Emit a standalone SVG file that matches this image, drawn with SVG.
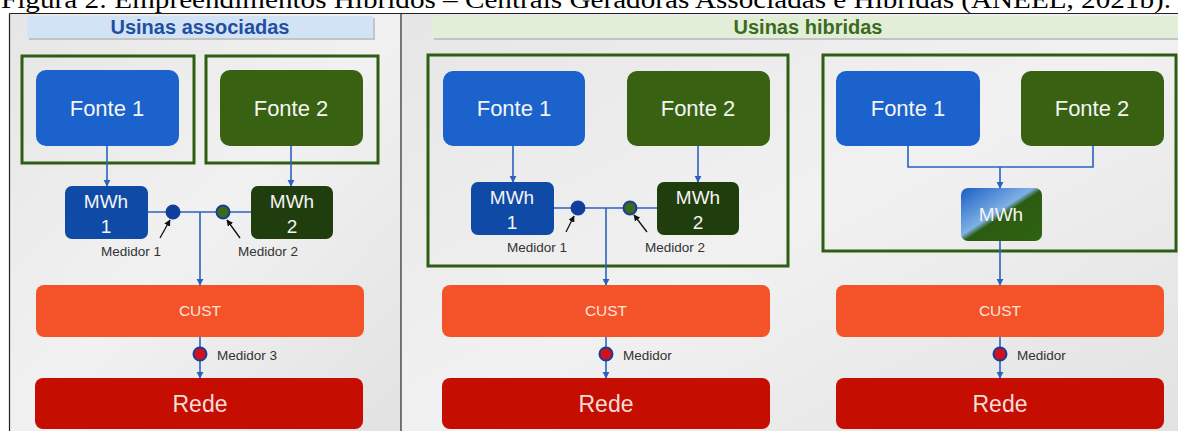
<svg xmlns="http://www.w3.org/2000/svg" width="1178" height="431" viewBox="0 0 1178 431">
<defs>
<linearGradient id="bg" x1="0" y1="0" x2="1" y2="1">
<stop offset="0" stop-color="#e6e6e6"/><stop offset="0.5" stop-color="#f1f1f1"/><stop offset="1" stop-color="#e2e2e2"/>
</linearGradient>
<linearGradient id="mix" x1="0" y1="0" x2="1" y2="1">
<stop offset="0" stop-color="#1b5fc4"/><stop offset="0.45" stop-color="#7fb0e6"/><stop offset="0.52" stop-color="#2c5c10"/><stop offset="1" stop-color="#2f6212"/>
</linearGradient>
<marker id="ab" viewBox="0 0 10 10" refX="9" refY="5" markerWidth="4.5" markerHeight="4.5" orient="auto"><path d="M0,0 L10,5 L0,10 z" fill="#2a62c0"/></marker>
<marker id="ak" viewBox="0 0 10 10" refX="9" refY="5" markerWidth="5" markerHeight="5" orient="auto"><path d="M0,0 L10,5 L0,10 z" fill="#111"/></marker>
<style>
.t{font-family:"Liberation Sans",Arial,sans-serif;text-anchor:middle}
.frame{fill:none;stroke:#2f5e12;stroke-width:3}
.f1{fill:#1c62cc}.f2{fill:#386212}
.m1{fill:#0e4aa6}.m2{fill:#1f3d0d}
.cust{fill:#f4532a}.rede{fill:#c50d02}
.wt{fill:#f4f4f4}
.big{font-size:22px}.mw{font-size:19px}
.lbl{font-family:"Liberation Sans",Arial,sans-serif;font-size:13.5px;fill:#333}
.con{fill:none;stroke:#2a62c0;stroke-width:1.6}
.conA{fill:none;stroke:#2a62c0;stroke-width:1.6;marker-end:url(#ab)}
.ptr{stroke:#111;stroke-width:1.3;marker-end:url(#ak)}
.med{stroke:#163f96;stroke-width:2}
</style>
</defs>
<rect width="1178" height="431" fill="#fff"/>
<text x="1" y="8" font-family="Liberation Serif,'Times New Roman',serif" font-size="26" textLength="1170" lengthAdjust="spacingAndGlyphs">Figura 2: Empreendimentos Híbridos – Centrais Geradoras Associadas e Híbridas (ANEEL, 2021b).</text>
<rect x="10" y="14" width="391" height="417" fill="url(#bg)"/>
<rect x="402" y="14" width="776" height="417" fill="url(#bg)"/>
<g fill="none" stroke="#222" stroke-width="1.2">
<path d="M9.5,13.5 H1178 M9.5,13.5 V431 M401,13.5 V431"/>
</g>

<g id="hdr-assoc">
<rect x="29" y="18" width="346" height="22" fill="#b9b9b9" opacity="0.8"/>
<rect x="27" y="16" width="346" height="22" fill="#d3e3f6"/>
<text class="t" x="200" y="34" font-size="20" font-weight="bold" fill="#1f4f9e">Usinas associadas</text>
</g>
<g id="hdr-hib">
<rect x="434" y="18" width="744" height="22" fill="#b9b9b9" opacity="0.8"/>
<rect x="432" y="16" width="746" height="22" fill="#e3eed9"/>
<text class="t" x="808" y="34" font-size="20" font-weight="bold" fill="#3a6b1e">Usinas hibridas</text>
</g>

<!-- frames -->
<g id="frame-a1"><rect class="frame" x="22" y="56" width="172" height="107"/></g>
<g id="frame-a2"><rect class="frame" x="206" y="56" width="172" height="107"/></g>
<g id="frame-h1"><rect class="frame" x="428" y="55" width="360" height="211"/></g>
<g id="frame-h2"><rect class="frame" x="823" y="55" width="353" height="196"/></g>

<!-- connectors -->
<g id="connectors">
<path class="conA" d="M107,146 V186"/>
<path class="conA" d="M291,146 V186"/>
<path class="con" d="M148,212 H251"/>
<path class="conA" d="M200,212 V285"/>
<path class="conA" d="M200,337 V378"/>
<path class="conA" d="M513,146 V182"/>
<path class="conA" d="M698,146 V182"/>
<path class="con" d="M554,208 H657"/>
<path class="conA" d="M606,208 V285"/>
<path class="conA" d="M606,337 V378"/>
<path class="con" d="M908,146 V167 H1093 V146"/>
<path class="conA" d="M1000,167 V188"/>
<path class="conA" d="M1000,241 V285"/>
<path class="conA" d="M1000,337 V378"/>
<line class="ptr" x1="160" y1="238" x2="170" y2="220"/>
<line class="ptr" x1="240" y1="238" x2="227" y2="220"/>
<line class="ptr" x1="566" y1="232" x2="574" y2="216"/>
<line class="ptr" x1="647" y1="232" x2="634" y2="215"/>
</g>

<!-- left panel nodes -->
<g id="a-fonte1"><rect class="f1" x="36" y="70" width="143" height="76" rx="10"/><text class="t wt big" x="107" y="116">Fonte 1</text></g>
<g id="a-fonte2"><rect class="f2" x="220" y="70" width="143" height="76" rx="10"/><text class="t wt big" x="291" y="116">Fonte 2</text></g>
<g id="a-mwh1"><rect class="m1" x="65" y="186" width="83" height="53" rx="7"/><text class="t wt mw" x="106" y="208">MWh</text><text class="t wt mw" x="106" y="233">1</text></g>
<g id="a-mwh2"><rect class="m2" x="251" y="186" width="82" height="53" rx="7"/><text class="t wt mw" x="292" y="208">MWh</text><text class="t wt mw" x="292" y="233">2</text></g>
<g id="a-med1"><circle class="med" cx="173" cy="212" r="6.5" fill="#0f3f9c"/><text class="lbl" x="131" y="256" text-anchor="middle">Medidor 1</text></g>
<g id="a-med2"><circle class="med" cx="223" cy="212" r="6.5" fill="#3d6a1a"/><text class="lbl" x="268" y="256" text-anchor="middle">Medidor 2</text></g>
<g id="a-cust"><rect class="cust" x="36" y="285" width="328" height="52" rx="8"/><text class="t" x="200" y="316" font-size="15.5" fill="#fde3d6">CUST</text></g>
<g id="a-med3"><circle class="med" cx="200" cy="354" r="6.5" fill="#d4101c"/><text class="lbl" x="217" y="360">Medidor 3</text></g>
<g id="a-rede"><rect class="rede" x="35" y="378" width="328" height="51" rx="8"/><text class="t" x="200" y="412" font-size="23" fill="#f6dcd8">Rede</text></g>

<!-- middle panel nodes -->
<g id="h1-fonte1"><rect class="f1" x="443" y="71" width="142" height="75" rx="10"/><text class="t wt big" x="514" y="116">Fonte 1</text></g>
<g id="h1-fonte2"><rect class="f2" x="627" y="71" width="143" height="75" rx="10"/><text class="t wt big" x="698" y="116">Fonte 2</text></g>
<g id="h1-mwh1"><rect class="m1" x="471" y="182" width="83" height="53" rx="7"/><text class="t wt mw" x="512" y="204">MWh</text><text class="t wt mw" x="512" y="229">1</text></g>
<g id="h1-mwh2"><rect class="m2" x="657" y="182" width="82" height="53" rx="7"/><text class="t wt mw" x="698" y="204">MWh</text><text class="t wt mw" x="698" y="229">2</text></g>
<g id="h1-med1"><circle class="med" cx="578" cy="208" r="6.5" fill="#0f3f9c"/><text class="lbl" x="537" y="252" text-anchor="middle">Medidor 1</text></g>
<g id="h1-med2"><circle class="med" cx="630" cy="208" r="6.5" fill="#3d6a1a"/><text class="lbl" x="675" y="252" text-anchor="middle">Medidor 2</text></g>
<g id="h1-cust"><rect class="cust" x="442" y="285" width="328" height="52" rx="8"/><text class="t" x="606" y="316" font-size="15.5" fill="#fde3d6">CUST</text></g>
<g id="h1-med"><circle class="med" cx="606" cy="354" r="6.5" fill="#d4101c"/><text class="lbl" x="623" y="360">Medidor</text></g>
<g id="h1-rede"><rect class="rede" x="442" y="378" width="328" height="51" rx="8"/><text class="t" x="606" y="412" font-size="23" fill="#f6dcd8">Rede</text></g>

<!-- right panel nodes -->
<g id="h2-fonte1"><rect class="f1" x="836" y="71" width="144" height="75" rx="10"/><text class="t wt big" x="908" y="116">Fonte 1</text></g>
<g id="h2-fonte2"><rect class="f2" x="1021" y="71" width="143" height="75" rx="10"/><text class="t wt big" x="1092" y="116">Fonte 2</text></g>
<g id="h2-mwh"><rect x="961" y="188" width="81" height="53" rx="7" fill="url(#mix)"/><text class="t wt mw" x="1001" y="221">MWh</text></g>
<g id="h2-cust"><rect class="cust" x="836" y="285" width="328" height="52" rx="8"/><text class="t" x="1000" y="316" font-size="15.5" fill="#fde3d6">CUST</text></g>
<g id="h2-med"><circle class="med" cx="1000" cy="354" r="6.5" fill="#d4101c"/><text class="lbl" x="1017" y="360">Medidor</text></g>
<g id="h2-rede"><rect class="rede" x="836" y="378" width="328" height="51" rx="8"/><text class="t" x="1000" y="412" font-size="23" fill="#f6dcd8">Rede</text></g>
</svg>
